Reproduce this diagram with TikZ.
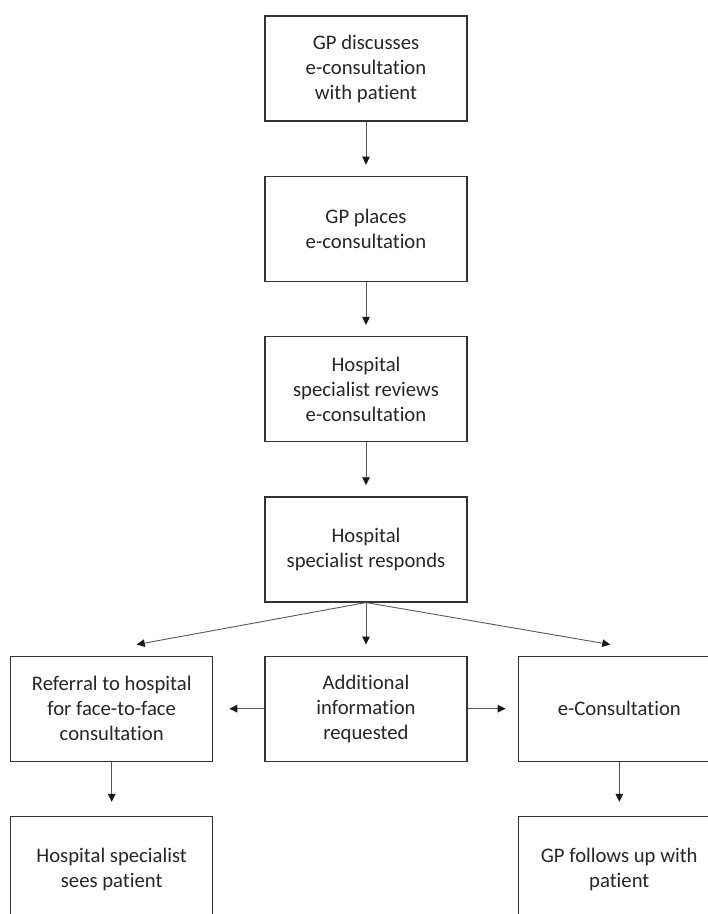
\documentclass[tikz,border=0pt]{standalone}
\usepackage{fontspec}
\setmainfont{Carlito}[RawFeature={-liga}]
\usepackage{tikz}
\usetikzlibrary{positioning, arrows.meta}
\tikzset{
  stepbox/.style={rectangle, draw=black!80, line width=1.3pt, minimum width=202pt, minimum height=105pt, align=center, text=black!85, font=\fontsize{20.7}{25}\selectfont},
  arrow/.style={-{Triangle[length=8pt,width=7.5pt,color=black!90]}, draw=black!65, line width=0.9pt, shorten >=11pt},
}

\begin{document}
\begin{tikzpicture}[x=1pt, y=1pt, node distance=54pt and 51pt]
  \clip (0,0) rectangle (708,-914);

  % Main column
  \node[stepbox] (discuss) at (366,-68.5) {GP discusses\\e-consultation\\with patient};
  \node[stepbox, below=of discuss] (places) {GP places\\e-consultation};
  \node[stepbox, below=of places] (reviews) {Hospital\\specialist reviews\\e-consultation};
  \node[stepbox, below=of reviews] (responds) {Hospital\\specialist responds};

  % Outcomes
  \node[stepbox, below=53pt of responds] (info) {Additional\\information\\requested};
  \node[stepbox, left=of info] (referral) {Referral to hospital\\for face-to-face\\consultation};
  \node[stepbox, right=50pt of info] (econs) {e-Consultation};
  \node[stepbox, below=of referral] (sees) {Hospital specialist\\sees patient};
  \node[stepbox, below=of econs] (follow) {GP follows up with\\patient};

  % Arrow ends above the outcome row
  \coordinate[above=11pt of referral, xshift=25pt] (refin);
  \coordinate[above=11pt of econs, xshift=-9pt] (econsin);

  % Arrows
  \draw[arrow] (discuss) -- (places);
  \draw[arrow] (places) -- (reviews);
  \draw[arrow] (reviews) -- (responds);
  \draw[arrow] (responds) -- (info);
  \draw[arrow, shorten >=0pt] (responds.south) -- (refin);
  \draw[arrow, shorten >=0pt] (responds.south) -- (econsin);
  \draw[arrow, shorten >=16pt] (info) -- (referral);
  \draw[arrow, shorten >=12pt] (info) -- (econs);
  \draw[arrow, shorten >=14pt] (referral) -- (sees);
  \draw[arrow, shorten >=14pt] (econs) -- (follow);

\end{tikzpicture}
\end{document}
